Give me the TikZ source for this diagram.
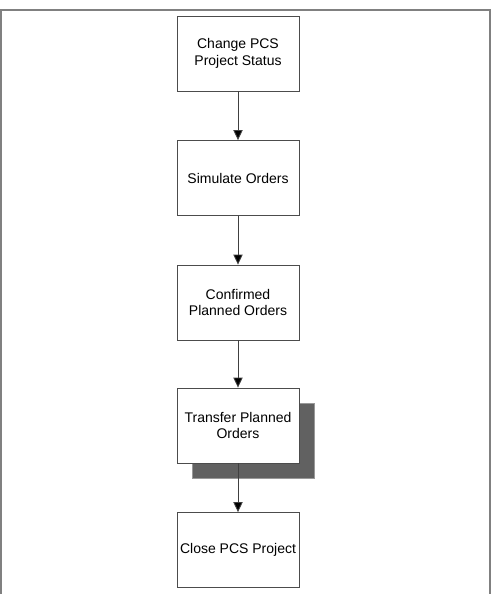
\documentclass[tikz,border=0pt]{standalone}
\usepackage{fontspec}
\setmainfont{Liberation Sans}
\usepackage{tikz}
\usetikzlibrary{arrows.meta,positioning,shadows}
\tikzset{
  stepbox/.style={rectangle,draw=black!70,fill=white,line width=.65pt,minimum width=91.5pt,minimum height=56.25pt,inner sep=1pt,align=center,font=\fontsize{10.5}{12.4}\selectfont},
  shadowbox/.style={stepbox,drop shadow={shadow xshift=11.25pt,shadow yshift=-11.25pt,fill=black!62,draw=black!40,opacity=1}},
  flow/.style={line width=.65pt,black!75,-{Triangle[length=7.5pt,width=7pt,fill=black]}},
  frame/.style={line width=.9pt,black!50}
}
\begin{document}
\begin{tikzpicture}[x=.75pt,y=-.75pt]
  \useasboundingbox (0,0) rectangle (492,594);
  \draw[frame] (1,594) -- (1,10) -- (490,10) -- (490,594);
  \node[stepbox] (status) at (238,53.5) {Change PCS\\Project Status};
  \node[stepbox] (simulate) at (238,178) {Simulate Orders};
  \node[stepbox] (confirmed) at (238,302.5) {Confirmed\\Planned Orders};
  \node[shadowbox] (transfer) at (238,425.5) {Transfer Planned\\Orders};
  \node[stepbox] (close) at (238,550) {Close PCS Project};
  \draw[flow] (status) -- (simulate);
  \draw[flow] (simulate) -- (confirmed);
  \draw[flow] (confirmed) -- (transfer);
  \draw[flow] (transfer) -- (close);
\end{tikzpicture}
\end{document}
